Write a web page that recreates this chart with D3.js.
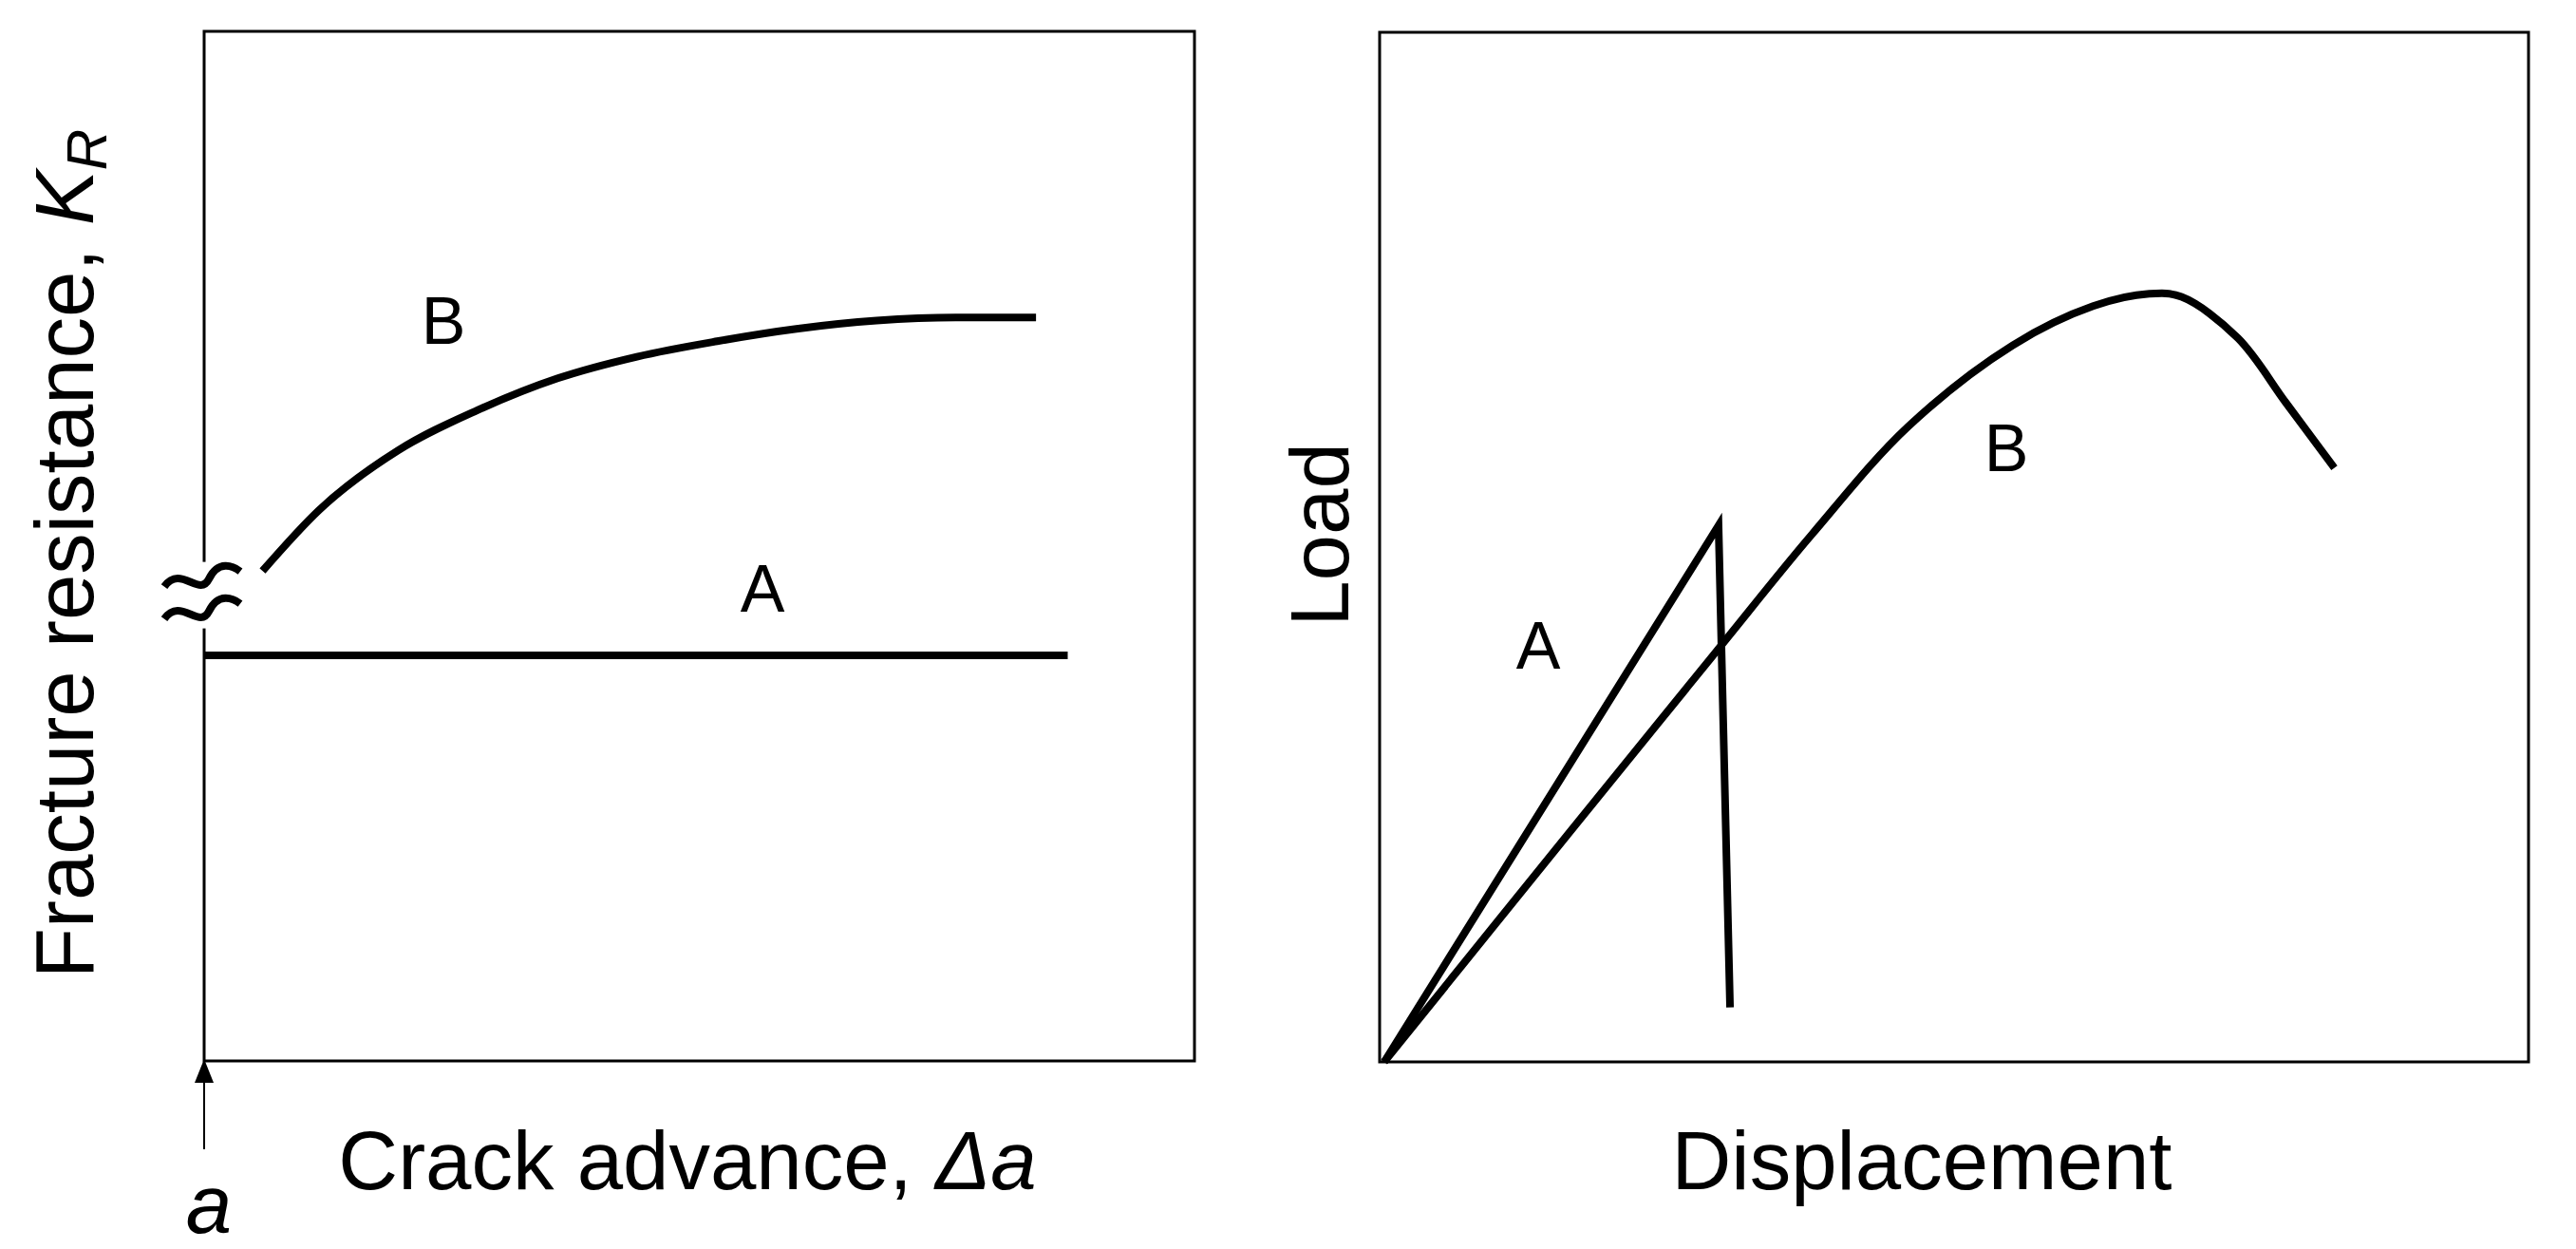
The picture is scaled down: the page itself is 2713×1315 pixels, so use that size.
<!DOCTYPE html><html><head><meta charset="utf-8"><script src="https://cdn.jsdelivr.net/npm/d3@7"></script>
<style>body{margin:0;background:#fff}svg{display:block}text{font-family:"Liberation Sans",Arial,sans-serif;fill:#000}</style></head><body>
<script>
const rCurveA=[[0,39.4],[87.2,39.4]];
const rCurveB=[[5.9,47.6],[11.6,53.5],[19.6,59.3],[27.6,63.2],[35.7,66.3],[43.7,68.4],[51.8,69.9],[59.8,71.1],[67.9,71.9],[75.9,72.2],[84.0,72.2]];
const ldA=[[0.4,0],[29.5,52.1],[30.5,5.3]];
const ldB=[[0.4,0],[16.6,22.4],[29.4,40.0],[37.6,51.2],[46.0,61.7],[55.1,69.6],[62.1,73.4],[67.0,74.6],[69.8,74.3],[74.7,70.3],[78.9,64.0],[83.1,57.7]];
const W=2713,H=1315;
const svg=d3.select("body").append("svg").attr("width",W).attr("height",H);
function panel(x0,x1,y0,y1){
  const x=d3.scaleLinear().domain([0,100]).range([x0,x1]);
  const y=d3.scaleLinear().domain([0,100]).range([y1,y0]);
  svg.append("rect").attr("x",x0).attr("y",y0).attr("width",x1-x0).attr("height",y1-y0).attr("fill","none").attr("stroke","#000").attr("stroke-width",3);
  return {x,y};
}
function line(p,data,curve){
  svg.append("path").datum(data).attr("d",d3.line().x(d=>p.x(d[0])).y(d=>p.y(d[1])).curve(curve||d3.curveLinear))
   .attr("fill","none").attr("stroke","#000").attr("stroke-width",8);
}
const L=panel(215,1258,33,1117);
line(L,rCurveA);
line(L,rCurveB,d3.curveMonotoneX);
// break symbol
const bx=L.x(0), by=L.y(45.7);
svg.append("rect").attr("x",bx-8).attr("y",by-30).attr("width",16).attr("height",70).attr("fill","#fff");
[-12,22].forEach(o=>{
  svg.append("path").attr("d",`M${bx-42},${by+o+8} C${bx-25},${by+o-16} ${bx-5},${by+o+20} ${bx+5},${by+o} S${bx+30},${by+o-14} ${bx+38},${by+o-8}`)
   .attr("fill","none").attr("stroke","#000").attr("stroke-width",8);
});
svg.append("text").attr("x",467).attr("y",362).attr("font-size",70).attr("text-anchor","middle").text("B");
svg.append("text").attr("x",803).attr("y",644).attr("font-size",70).attr("text-anchor","middle").text("A");
const yl=svg.append("text").attr("transform","translate(98,583) rotate(-90)").attr("font-size",87).attr("text-anchor","middle");
yl.append("tspan").text("Fracture resistance, ");
yl.append("tspan").attr("font-style","italic").text("K");
yl.append("tspan").attr("font-style","italic").attr("font-size",60).attr("dy",14).text("R");
const xl=svg.append("text").attr("x",724).attr("y",1252).attr("font-size",87).attr("text-anchor","middle");
xl.append("tspan").text("Crack advance, ");
xl.append("tspan").attr("font-style","italic").text("Δa");
svg.append("text").attr("x",220).attr("y",1298).attr("font-size",87).attr("font-style","italic").attr("text-anchor","middle").text("a");
svg.append("line").attr("x1",215).attr("x2",215).attr("y1",1210).attr("y2",1135).attr("stroke","#000").attr("stroke-width",2);
svg.append("path").attr("d","M205,1140 L215,1115 L225,1140 Z").attr("fill","#000");

const R=panel(1453,2663,34,1118);
line(R,ldA);
line(R,ldB,d3.curveCatmullRom);
svg.append("text").attr("x",1620).attr("y",704).attr("font-size",70).attr("text-anchor","middle").text("A");
svg.append("text").attr("x",2113).attr("y",496).attr("font-size",70).attr("text-anchor","middle").text("B");
svg.append("text").attr("transform","translate(1420,563) rotate(-90)").attr("font-size",87).attr("text-anchor","middle").text("Load");
svg.append("text").attr("x",2024).attr("y",1252).attr("font-size",87).attr("text-anchor","middle").text("Displacement");
</script></body></html>
